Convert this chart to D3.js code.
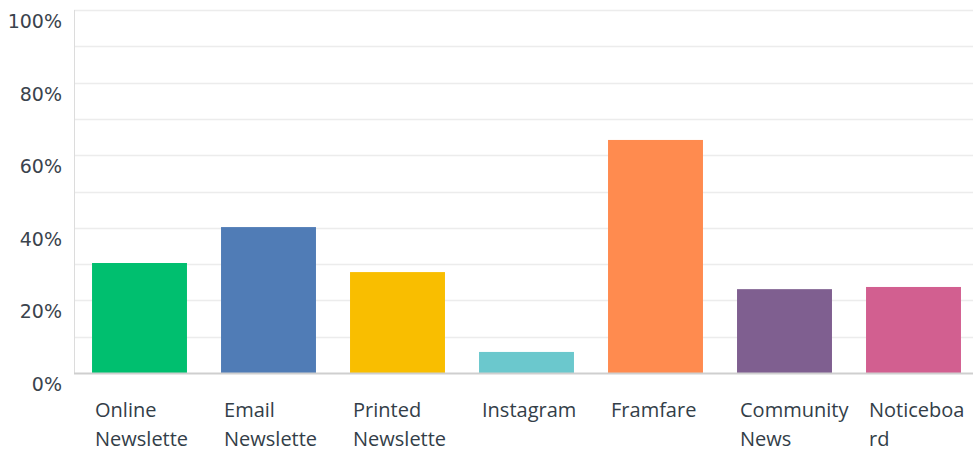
<!DOCTYPE html>
<html><head><meta charset="utf-8">
<script src="https://cdn.jsdelivr.net/npm/d3@7"></script>
<style>html,body{margin:0;padding:0;background:#fff;overflow:hidden}</style>
</head><body>
<svg id="chart" width="973" height="451"></svg>
<script>
const categories = ["Online Newsletter","Email Newsletter","Printed Newsletter","Instagram","Framfare","Community News","Noticeboard"];
const tickLabelLines = [["Online","Newslette"],["Email","Newslette"],["Printed","Newslette"],["Instagram"],["Framfare"],["Community","News"],["Noticeboa","rd"]];
const values = [0.303, 0.402, 0.278, 0.058, 0.642, 0.231, 0.237];
const colors = ["#00bf6f","#507cb6","#f9be00","#6bc8cd","#ff8b4f","#7f5f90","#d25f90"];
const yTicks = [0,0.2,0.4,0.6,0.8,1];
const gridTicks = [0.1,0.2,0.3,0.4,0.5,0.6,0.7,0.8,0.9,1];

(function(){
const svg = d3.select("#chart");
const mLeft = 74, mRight = 973, mTop = 10, mBottom = 373;
const x = d3.scaleBand().domain(categories).range([75, 978]).paddingInner(0.264).paddingOuter(0.132);
const y = d3.scaleLinear().domain([0,1]).range([mBottom, mTop]);

svg.append("g").selectAll("line").data(gridTicks).join("line")
  .attr("x1", mLeft).attr("x2", mRight)
  .attr("y1", d => Math.round(y(d)) + 0.5).attr("y2", d => Math.round(y(d)) + 0.5)
  .attr("stroke", "#ececec").attr("stroke-width", 1.5);

svg.append("line").attr("x1", mLeft + 0.5).attr("x2", mLeft + 0.5).attr("y1", mTop).attr("y2", mBottom)
  .attr("stroke", "#dcdcdc").attr("stroke-width", 1);

svg.append("g").selectAll("rect").data(categories).join("rect")
  .attr("x", d => x(d)).attr("width", x.bandwidth())
  .attr("y", (d, i) => y(values[i])).attr("height", (d, i) => y(0) - y(values[i]))
  .attr("fill", (d, i) => colors[i]);

svg.append("line").attr("x1", mLeft).attr("x2", mRight).attr("y1", mBottom + 0.5).attr("y2", mBottom + 0.5)
  .attr("stroke", "#cfcfcf").attr("stroke-width", 2);

svg.append("g").selectAll("text").data(yTicks).join("text")
  .attr("x", 62).attr("y", d => y(d) + 18)
  .attr("text-anchor", "end")
  .attr("font-family", "DejaVu Sans, sans-serif").attr("font-size", 19)
  .attr("fill", "#3a434d")
  .text(d => d3.format(".0%")(d));

const xl = svg.append("g").selectAll("text").data(categories).join("text")
  .attr("x", d => x(d) + 3).attr("y", 417)
  .attr("font-family", "Open Sans, sans-serif").attr("font-size", 20)
  .attr("fill", "#333e48");
xl.each(function(d, i) {
  const t = d3.select(this);
  tickLabelLines[i].forEach((ln, j) => {
    t.append("tspan").attr("x", x(d) + 3).attr("y", 417 + j * 29).text(ln);
  });
});
})();
</script>
</body></html>
